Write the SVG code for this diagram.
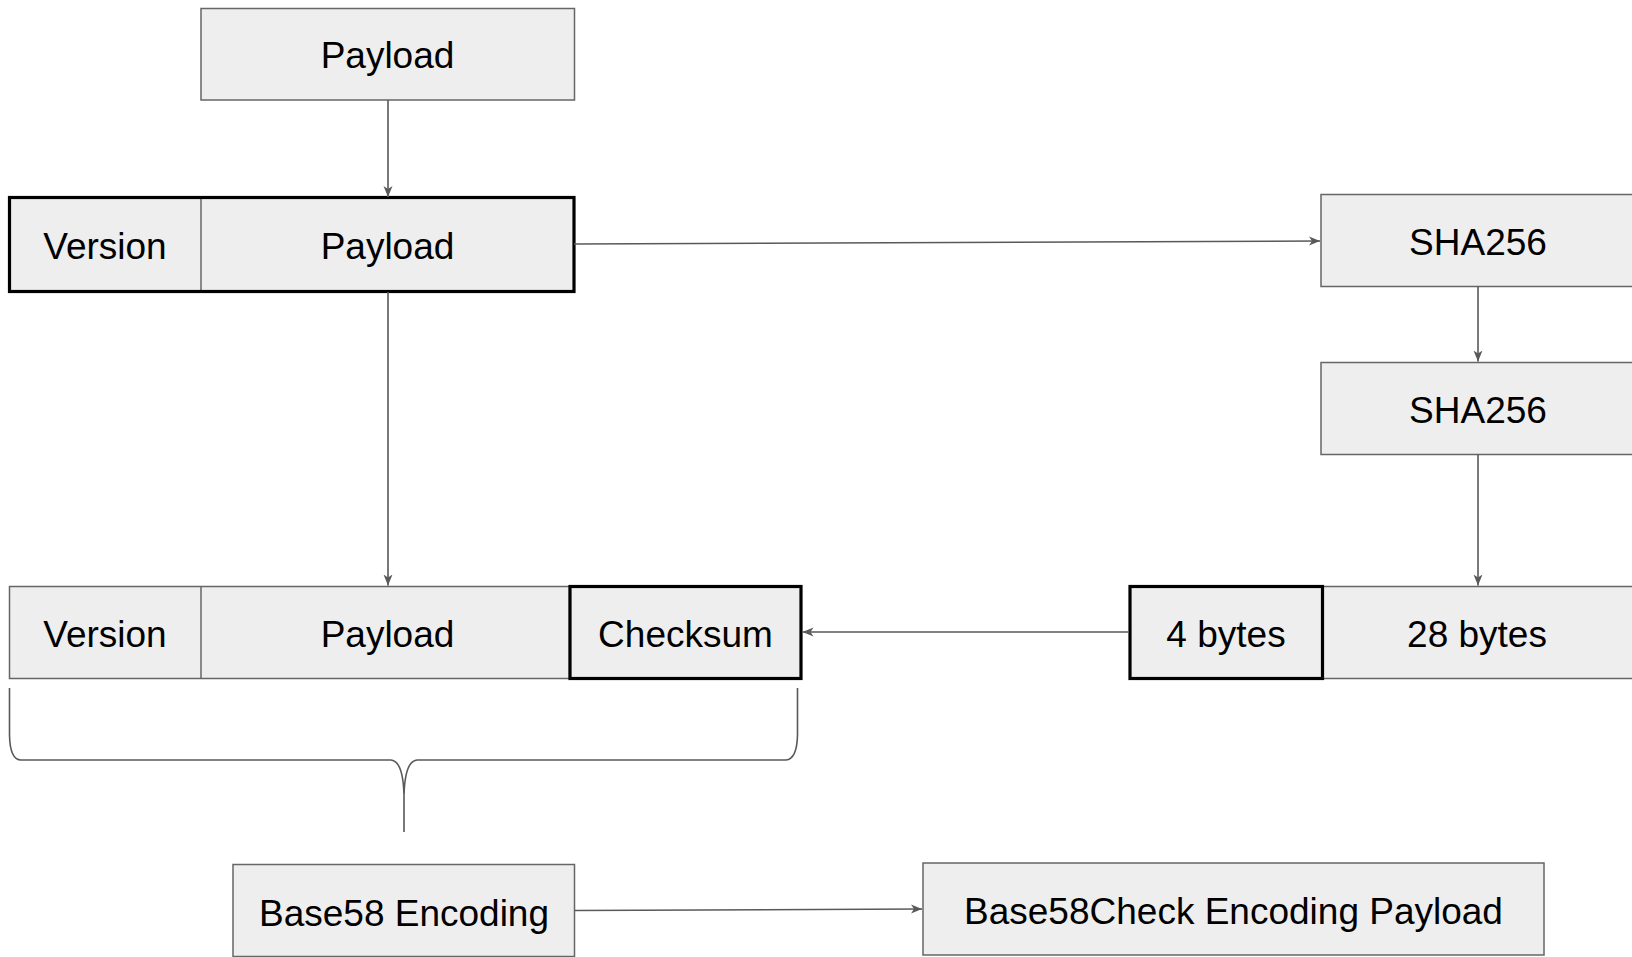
<svg xmlns="http://www.w3.org/2000/svg" width="1632" height="957" viewBox="0 0 1632 957">
<style>
.box{fill:#eeeeee;stroke:#666666;stroke-width:1.5}
.thick{fill:none;stroke:#000000;stroke-width:3.2}
.div{stroke:#666666;stroke-width:1.5}
.t{font-family:"Liberation Sans",Arial,sans-serif;font-size:37px;fill:#000;text-anchor:middle}
.c{fill:none;stroke:#595959;stroke-width:1.6}
</style>
<defs>
<marker id="ah" markerWidth="12" markerHeight="10" refX="11" refY="5" orient="auto" markerUnits="userSpaceOnUse">
<path d="M0,0.5 L11,5 L0,9.5 L3,5 Z" fill="#595959"/>
</marker>
</defs>
<rect width="1632" height="957" fill="#ffffff"/>
<g id="payload-top">
<rect class="box" x="201" y="8.5" width="373.5" height="91.5"/>
<text class="t" x="387.5" y="68">Payload</text>
</g>
<g id="row2">
<rect class="box" x="9.5" y="197.5" width="564.5" height="94"/>
<line class="div" x1="201" y1="197.5" x2="201" y2="291.5"/>
<rect class="thick" x="9.5" y="197.5" width="564.5" height="94"/>
<text class="t" x="105" y="259">Version</text>
<text class="t" x="387.5" y="259">Payload</text>
</g>
<g id="sha1">
<rect class="box" x="1321" y="194.5" width="320" height="92"/>
<text class="t" x="1478" y="255">SHA256</text>
</g>
<g id="sha2">
<rect class="box" x="1321" y="362.5" width="320" height="92"/>
<text class="t" x="1478" y="423">SHA256</text>
</g>
<g id="hash-split">
<rect class="box" x="1322.5" y="586.5" width="320" height="92"/>
<rect class="box" x="1130" y="586.5" width="192.5" height="92"/>
<rect class="thick" x="1130" y="586.5" width="192.5" height="92"/>
<text class="t" x="1226" y="647">4 bytes</text>
<text class="t" x="1477" y="647">28 bytes</text>
</g>
<g id="row3">
<rect class="box" x="9.5" y="586.5" width="560" height="92"/>
<line class="div" x1="201" y1="586.5" x2="201" y2="678.5"/>
<rect class="box" x="570" y="586.5" width="231" height="92"/>
<rect class="thick" x="570" y="586.5" width="231" height="92"/>
<text class="t" x="105" y="647">Version</text>
<text class="t" x="387.5" y="647">Payload</text>
<text class="t" x="685.5" y="647">Checksum</text>
</g>
<g id="brace">
<path class="c" d="M9.5,688 L9.5,735 Q10,760 21,760 L391,760 Q403,761 404,795 L404,832 M404,795 Q405,761 417,760 L786,760 Q797,759 797.5,735 L797.5,688"/>
</g>
<g id="base58">
<rect class="box" x="233" y="864.5" width="341.5" height="92"/>
<text class="t" x="404" y="926">Base58 Encoding</text>
</g>
<g id="base58check">
<rect class="box" x="923" y="863" width="621" height="92"/>
<text class="t" x="1233.5" y="924">Base58Check Encoding Payload</text>
</g>
<g id="connectors">
<line class="c" x1="388" y1="100" x2="388" y2="197" marker-end="url(#ah)"/>
<line class="c" x1="574" y1="244" x2="1320" y2="241" marker-end="url(#ah)"/>
<line class="c" x1="1478" y1="286.5" x2="1478" y2="361.5" marker-end="url(#ah)"/>
<line class="c" x1="1478" y1="454.5" x2="1478" y2="585.5" marker-end="url(#ah)"/>
<line class="c" x1="388" y1="292" x2="388" y2="585.5" marker-end="url(#ah)"/>
<line class="c" x1="1129" y1="632" x2="802.5" y2="632" marker-end="url(#ah)"/>
<line class="c" x1="574.5" y1="910.5" x2="922" y2="909" marker-end="url(#ah)"/>
</g>
</svg>
